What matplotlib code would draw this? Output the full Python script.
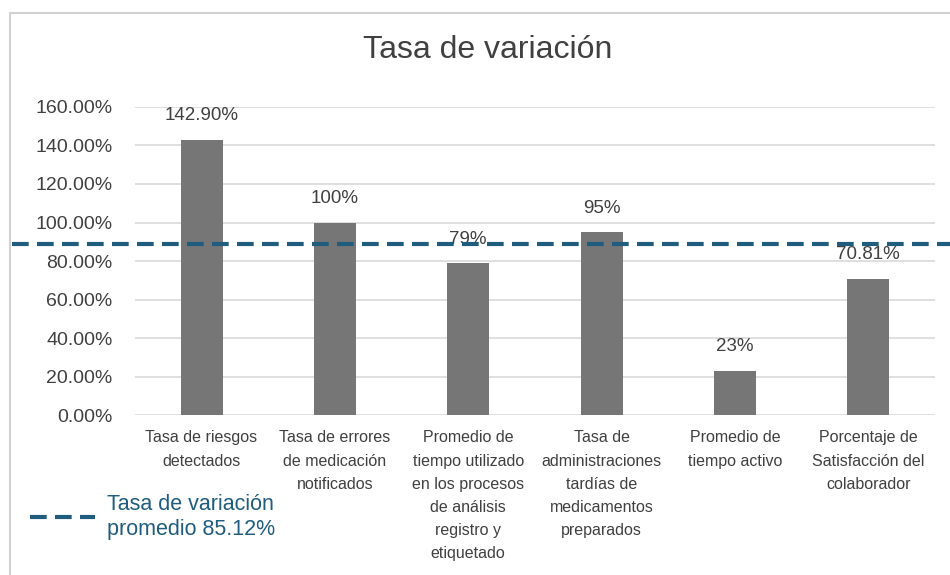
import matplotlib
matplotlib.use("Agg")
import matplotlib.pyplot as plt
import matplotlib.transforms as mtransforms
from matplotlib.patches import Rectangle
from matplotlib.lines import Line2D
import numpy as np

plt.rcParams["font.family"] = ["Liberation Sans", "DejaVu Sans"]

# data
categories = [
    "Tasa de riesgos\ndetectados",
    "Tasa de errores\nde medicación\nnotificados",
    "Promedio de\ntiempo utilizado\nen los procesos\nde análisis\nregistro y\netiquetado",
    "Tasa de\nadministraciones\ntardías de\nmedicamentos\npreparados",
    "Promedio de\ntiempo activo",
    "Porcentaje de\nSatisfacción del\ncolaborador",
]
values = [142.90, 100, 79, 95, 23, 70.81]
value_labels = ["142.90%", "100%", "79%", "95%", "23%", "70.81%"]
avg_label = "Tasa de variación\npromedio 85.12%"
avg_line_level = 88.7  # where the dashed line sits in the picture
yticks = [0, 20, 40, 60, 80, 100, 120, 140, 160]

txt = "#404040"
bar_col = "#767676"
line_col = "#1f5c7e"

fig = plt.figure(figsize=(9.5, 5.75), dpi=100)
ax = fig.add_axes([0.142, 0.278, 0.842, 0.536])

x = np.arange(len(categories))
ax.bar(x, values, width=0.315, color=bar_col, zorder=3)
for xi, v, lab in zip(x, values, value_labels):
    ax.text(xi, v + 8, lab, ha="center", va="bottom", fontsize=13.5, color=txt)

ax.set_xlim(-0.5, len(categories) - 0.5)
ax.set_ylim(0, 160)
ax.set_yticks(yticks)
ax.set_yticklabels([f"{t:.2f}%" for t in yticks], fontsize=14, color=txt)
ax.set_xticks(x)
ax.set_xticklabels(categories, fontsize=11.5, color=txt, linespacing=1.68, va="top")
ax.tick_params(axis="both", length=0)
ax.tick_params(axis="y", pad=16)
ax.tick_params(axis="x", pad=11)
ax.grid(axis="y", color="#d9d9d9", linewidth=1.2, zorder=0)
for s in ax.spines.values():
    s.set_visible(False)

# average line spans the whole chart width
trans = mtransforms.blended_transform_factory(fig.transFigure, ax.transData)
ax.add_line(Line2D([0.013, 1.0], [avg_line_level, avg_line_level], transform=trans,
                   color=line_col, linewidth=3, linestyle=(0, (4, 2)),
                   clip_on=False, zorder=5))

fig.suptitle("Tasa de variación", x=0.513, y=0.94, fontsize=23, color=txt)

# manual legend for the average line
fig.add_artist(Line2D([0.032, 0.1], [0.101, 0.101], color=line_col, linewidth=3,
                      linestyle=(0, (4, 2))))
fig.text(0.113, 0.101, avg_label, fontsize=15.5,
         color=line_col, va="center", ha="left", linespacing=1.2)

# chart border
fig.add_artist(Rectangle((0.011, -0.01), 1.0, 0.988, transform=fig.transFigure,
                         fill=False, edgecolor="#d0d0d0", linewidth=1.5))

fig.savefig("out.png", dpi=100)
